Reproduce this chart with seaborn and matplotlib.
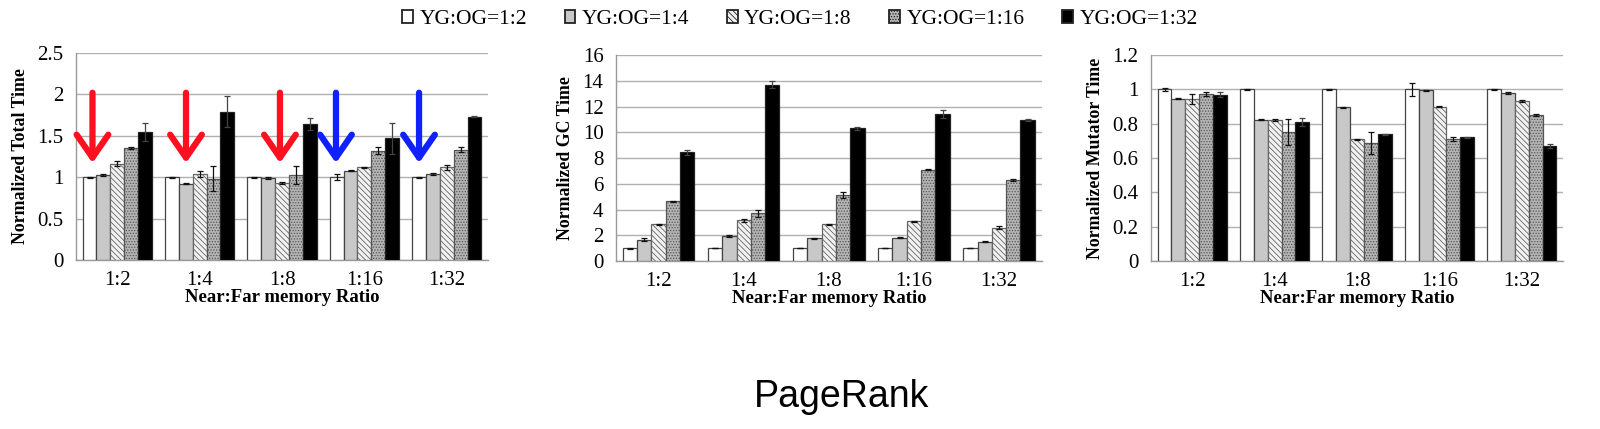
import numpy as np
import pandas as pd
import matplotlib
matplotlib.use("Agg")
import matplotlib.pyplot as plt
import seaborn as sns
from matplotlib.ticker import FuncFormatter, FixedLocator

# ---------------- data ----------------
ratios = ["1:2", "1:4", "1:8", "1:16", "1:32"]
configs = ["YG:OG=1:2", "YG:OG=1:4", "YG:OG=1:8", "YG:OG=1:16", "YG:OG=1:32"]

# rows: near:far ratio, cols: YG:OG config
total_time = [
    [1.00, 1.03, 1.16, 1.35, 1.55],
    [1.00, 0.92, 1.04, 0.98, 1.79],
    [1.00, 0.99, 0.93, 1.03, 1.64],
    [1.00, 1.08, 1.12, 1.32, 1.47],
    [1.00, 1.04, 1.12, 1.33, 1.73],
]
total_err = [
    [0.005, 0.010, 0.030, 0.010, 0.110],
    [0.005, 0.005, 0.040, 0.150, 0.190],
    [0.005, 0.015, 0.015, 0.110, 0.070],
    [0.035, 0.005, 0.005, 0.040, 0.190],
    [0.005, 0.010, 0.030, 0.030, 0.005],
]
gc_time = [
    [1.00, 1.65, 2.85, 4.65, 8.45],
    [1.00, 1.95, 3.15, 3.70, 13.70],
    [1.00, 1.75, 2.85, 5.15, 10.30],
    [1.00, 1.80, 3.10, 7.10, 11.40],
    [1.00, 1.50, 2.60, 6.30, 10.95],
]
gc_err = [
    [0.03, 0.10, 0.06, 0.04, 0.20],
    [0.02, 0.05, 0.12, 0.28, 0.28],
    [0.02, 0.04, 0.04, 0.25, 0.12],
    [0.02, 0.03, 0.04, 0.05, 0.30],
    [0.02, 0.04, 0.12, 0.05, 0.05],
]
mut_time = [
    [1.000, 0.945, 0.945, 0.975, 0.968],
    [1.000, 0.822, 0.822, 0.752, 0.812],
    [1.000, 0.895, 0.710, 0.685, 0.738],
    [1.000, 0.995, 0.900, 0.711, 0.720],
    [1.000, 0.980, 0.930, 0.850, 0.670],
]
mut_err = [
    [0.008, 0.003, 0.028, 0.012, 0.015],
    [0.004, 0.003, 0.008, 0.078, 0.023],
    [0.003, 0.003, 0.003, 0.064, 0.004],
    [0.038, 0.004, 0.002, 0.010, 0.003],
    [0.003, 0.006, 0.006, 0.004, 0.012],
]

# arrows on the total-time panel: (x position in category units, colour)
arrow_x = [-0.30, 0.835, 1.975, 2.655, 3.663]
arrow_colors = ["#ff1020", "#ff1020", "#ff1020", "#1020ff", "#1020ff"]
arrow_top, arrow_tip = 2.02, 1.17

face_colors = ["#ffffff", "#c8c8c8", "#f2f2f2", "#b4b4b4", "#000000"]
hatches = [None, None, "\\\\\\\\\\\\", "......", None]
edge_colors = ["#444444", "#444444", "#666666", "#555555", "#222222"]

# ---------------- style ----------------
sns.set_theme(style="white")
plt.rcParams["font.family"] = ["Liberation Serif", "DejaVu Serif"]
plt.rcParams["hatch.linewidth"] = 0.6
plt.rcParams["text.color"] = "black"
plt.rcParams["axes.labelcolor"] = "black"
plt.rcParams["xtick.labelcolor"] = "black"
plt.rcParams["ytick.labelcolor"] = "black"

fig = plt.figure(figsize=(16, 4.29), dpi=100)

panels = [
    (total_time, total_err, "Normalized Total Time", (0, 2.5), np.arange(0, 2.51, 0.5),
     [0.0475, 0.394, 0.2575, 0.4825]),
    (gc_time, gc_err, "Normalized GC Time", (0, 16), np.arange(0, 16.1, 2),
     [0.385, 0.3916, 0.266, 0.480]),
    (mut_time, mut_err, "Normalized Mutator Time", (0, 1.2), np.arange(0, 1.21, 0.2),
     [0.7194, 0.3916, 0.2575, 0.480]),
]

fmt = FuncFormatter(lambda v, p: f"{v:g}")
legend_handles = None

for vals, errs, ylabel, ylim, yticks, rect in panels:
    ax = fig.add_axes(rect)
    rows = []
    for i, r in enumerate(ratios):
        for j, c in enumerate(configs):
            rows.append({"ratio": r, "config": c, "value": vals[i][j], "err": errs[i][j]})
    df = pd.DataFrame(rows)
    sns.barplot(data=df, x="ratio", y="value", hue="config", order=ratios,
                hue_order=configs, palette=face_colors, saturation=1,
                errorbar=None, width=0.84, gap=0, ax=ax, legend=False,
                edgecolor="#444444", linewidth=0.9, zorder=3)
    bar_containers = list(ax.containers)
    for j, cont in enumerate(bar_containers):
        xs, ys, es = [], [], []
        for i, patch in enumerate(cont.patches):
            patch.set_edgecolor(edge_colors[j])
            if hatches[j]:
                patch.set_hatch(hatches[j])
            xs.append(patch.get_x() + patch.get_width() / 2)
            ys.append(patch.get_height())
            es.append(errs[i][j])
        ax.errorbar(xs, ys, yerr=es, fmt="none", ecolor="#111111" if j < 4 else "#444444",
                    elinewidth=0.9, capsize=2.5, capthick=0.9, zorder=4)
    if legend_handles is None:
        legend_handles = [cont.patches[0] for cont in bar_containers]

    ax.set_ylim(*ylim)
    ax.set_xlim(-0.5, 4.5)
    ax.yaxis.set_major_locator(FixedLocator(yticks))
    ax.yaxis.set_major_formatter(fmt)
    ax.grid(axis="y", color="#b0b0b0", linewidth=1.0, zorder=0)
    ax.set_axisbelow(True)
    for s in ["top", "right"]:
        ax.spines[s].set_visible(False)
    for s in ["left", "bottom"]:
        ax.spines[s].set_color("#999999")
        ax.spines[s].set_linewidth(1.0)
    ax.xaxis.set_minor_locator(FixedLocator(np.arange(-0.5, 4.6, 1.0)))
    ax.tick_params(axis="x", which="major", length=0, labelsize=15, pad=8, labelcolor="black")
    ax.tick_params(axis="x", which="minor", length=6, width=1.0, color="#999999", direction="out")
    ax.tick_params(axis="y", length=6, width=1.0, color="#999999", direction="out",
                   labelsize=15, pad=3, labelcolor="black")
    ax.set_xlabel("Near:Far memory Ratio", fontsize=13.5, fontweight="bold", labelpad=-1,
                  color="black")
    ax.set_ylabel(ylabel, fontsize=12.8, fontweight="bold", labelpad=6, color="black")

    if ylabel == "Normalized Total Time":
        for x, col in zip(arrow_x, arrow_colors):
            ax.annotate("", xy=(x, arrow_tip), xytext=(x, arrow_top),
                        arrowprops=dict(arrowstyle="->,head_length=0.55,head_width=0.38",
                                        color=col, lw=4.5, mutation_scale=30,
                                        shrinkA=0, shrinkB=0),
                        zorder=5)

leg = fig.legend(legend_handles, configs, loc="center", bbox_to_anchor=(0.5, 0.955),
                 ncol=5, frameon=False, fontsize=15.5, handlelength=0.5, handleheight=0.6,
                 handletextpad=0.3, columnspacing=1.75, borderaxespad=0)
for t in leg.get_texts():
    t.set_color("black")
for h in leg.legend_handles:
    h.set_linewidth(1.3)
    h.set_edgecolor("#222222")

fig.text(0.526, 0.0513, "PageRank", ha="center", va="baseline", fontsize=27,
         color="black", family=["Liberation Sans", "DejaVu Sans"])

fig.savefig("out.png", dpi=100)
